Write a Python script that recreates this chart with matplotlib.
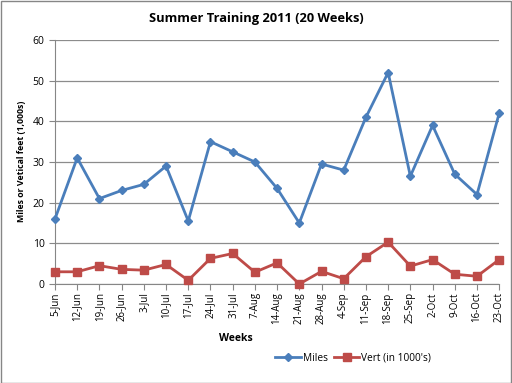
import matplotlib.pyplot as plt
from matplotlib.patches import Rectangle

# weekly data
weeks = ['5-Jun', '12-Jun', '19-Jun', '26-Jun', '3-Jul', '10-Jul', '17-Jul',
         '24-Jul', '31-Jul', '7-Aug', '14-Aug', '21-Aug', '28-Aug', '4-Sep',
         '11-Sep', '18-Sep', '25-Sep', '2-Oct', '9-Oct', '16-Oct', '23-Oct']
miles = [16, 31, 21, 23, 24.5, 29, 15.5, 35, 32.5, 30, 23.5, 15, 29.5, 28,
         41, 52, 26.5, 39, 27, 22, 42]
vert = [3.0, 3.0, 4.5, 3.6, 3.4, 4.8, 0.9, 6.3, 7.5, 2.9, 5.2, 0.0, 3.1, 1.3,
        6.7, 10.3, 4.4, 6.0, 2.4, 1.9, 6.0]

plt.rcParams['font.family'] = ['Open Sans', 'DejaVu Sans']

fig = plt.figure(figsize=(5.12, 3.83), dpi=100)
ax = fig.add_axes([0.1074, 0.2585, 0.8676, 0.6371])

x = list(range(len(weeks)))
ax.plot(x, miles, color='#4A7EBB', linewidth=2.0, marker='D', markersize=4.5,
        label='Miles', zorder=3, clip_on=False)
ax.plot(x, vert, color='#BE4B48', linewidth=2.0, marker='s', markersize=6,
        label="Vert (in 1000's)", zorder=3, clip_on=False)

ax.set_xlim(0, len(weeks) - 1)
ax.set_ylim(0, 60)
ax.set_yticks(range(0, 61, 10))
ax.set_xticks(x)
ax.set_xticklabels(weeks, rotation=90, fontsize=7)
ax.tick_params(axis='y', labelsize=7.5, length=4, color='#868686')
ax.tick_params(axis='x', length=4, color='#868686', pad=2)
ax.grid(axis='y', color='#8C8C8C', linewidth=0.9)
ax.set_axisbelow(True)
for s in ['top', 'right']:
    ax.spines[s].set_visible(False)
for s in ['left', 'bottom']:
    ax.spines[s].set_color('#868686')

fig.text(0.5, 0.952, 'Summer Training 2011 (20 Weeks)', ha='center', va='center',
         fontsize=9.3, fontweight='bold')
fig.text(0.042, 0.578, 'Miles or Vetical feet (1,000s)', rotation=90,
         ha='center', va='center', fontsize=6.3, fontweight='bold')
fig.text(0.46, 0.117, 'Weeks', ha='center', va='center', fontsize=7.5,
         fontweight='bold')

fig.legend(loc='center', bbox_to_anchor=(0.69, 0.065), ncol=2, frameon=False,
           fontsize=7.3, handlelength=2.5, columnspacing=0.6, handletextpad=0.2)

fig.patches.append(Rectangle((0.001, 0.001), 0.997, 0.996, transform=fig.transFigure,
                             fill=False, edgecolor='#868686', linewidth=1))

fig.savefig('out.png', dpi=100)
